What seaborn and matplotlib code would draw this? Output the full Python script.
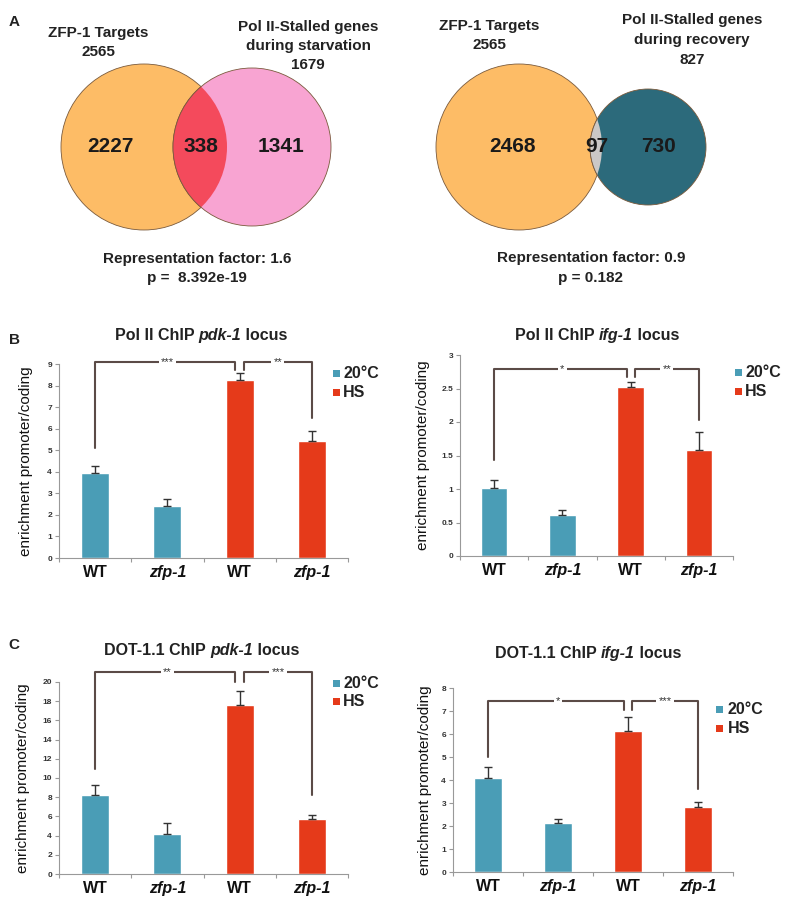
import numpy as np
import pandas as pd
import matplotlib.pyplot as plt
import seaborn as sns
from matplotlib.patches import Circle, Rectangle

sns.set_theme(style="white")
plt.rcParams['font.family'] = ['Liberation Sans', 'DejaVu Sans']

# ---- data ----
# venn A (left: starvation, right: recovery)
venn_starv = [2227, 338, 1341]
venn_recov = [2468, 97, 730]
zfp_total = 2565
starv_total = 1679
recov_total = 827

# bar charts
groups = ["WT_20", "zfp_20", "WT_HS", "zfp_HS"]
conds = ["20°C", "20°C", "HS", "HS"]
xlabels = ["WT", "zfp-1", "WT", "zfp-1"]

pol2_pdk = [3.95, 2.42, 8.28, 5.45]
pol2_pdk_err = [0.30, 0.30, 0.30, 0.45]
pol2_ifg = [1.02, 0.61, 2.52, 1.58]
pol2_ifg_err = [0.12, 0.08, 0.08, 0.27]
dot_pdk = [8.2, 4.15, 17.65, 5.75]
dot_pdk_err = [1.05, 1.15, 1.4, 0.35]
dot_ifg = [4.08, 2.12, 6.12, 2.82]
dot_ifg_err = [0.50, 0.20, 0.62, 0.22]

# significance brackets: stars, left arm start, top, middle drop, right arm end
sig_pol2_pdk = ("***", "**", 5.1, 9.08, 8.72, 6.5)
sig_pol2_ifg = ("*", "**", 1.43, 2.79, 2.67, 2.03)
sig_dot_pdk = ("**", "***", 10.9, 21.0, 20.0, 8.2)
sig_dot_ifg = ("*", "***", 5.0, 7.43, 7.05, 3.6)

teal = "#4A9DB6"
red = "#E53A1A"
brk = "#5B4B47"

fig = plt.figure(figsize=(8, 9.05), dpi=100)
bg = fig.add_axes([0, 0, 1, 1])
bg.set_xlim(0, 800)
bg.set_ylim(905, 0)
bg.axis('off')


def venn(c1, r1, c2, r2, col1, col2, colint, counts, pos):
    a = Circle(c1, r1, fc=col1, ec="#7a5a3c", lw=0.6)
    b = Circle(c2, r2, fc=col2, ec="#7a5a3c", lw=0.6)
    bg.add_patch(a)
    bg.add_patch(b)
    i = Circle(c2, r2, fc=colint, ec="#7a5a3c", lw=0.6)
    bg.add_patch(i)
    i.set_clip_path(a)
    for n, p in zip(counts, pos):
        bg.text(p, c1[1], str(n), fontsize=15, fontweight='bold', ha='center', va='center', color="#1a1a1a")


venn((144, 147), 83, (252, 147), 79, "#FDBC66", "#F8A4D2", "#F44A5C", venn_starv, [110, 201, 281])
venn((519, 147), 83, (648, 147), 58, "#FDBC66", "#2C6A7B", "#CBC8C6", venn_recov, [512, 597, 658])

tk = dict(fontsize=11, fontweight='bold', ha='center', va='center', color="#222")
bg.text(14, 22, "A", **tk)
bg.text(98, 33, "ZFP-1 Targets", **tk)
bg.text(98, 52, str(zfp_total), **tk)
bg.text(308, 27, "Pol II-Stalled genes", **tk)
bg.text(308, 46, "during starvation", **tk)
bg.text(308, 65, str(starv_total), **tk)
bg.text(197, 259, "Representation factor: 1.6", **tk)
bg.text(197, 278, "p =  8.392e-19", **tk)

bg.text(489, 26, "ZFP-1 Targets", **tk)
bg.text(489, 45, str(zfp_total), **tk)
bg.text(692, 20, "Pol II-Stalled genes", **tk)
bg.text(692, 40, "during recovery", **tk)
bg.text(692, 60, str(recov_total), **tk)
bg.text(591, 258, "Representation factor: 0.9", **tk)
bg.text(591, 278, "p = 0.182", **tk)

bg.text(14, 340, "B", **tk)
bg.text(14, 645, "C", **tk)


def rich_title(x, y, parts):
    r = fig.canvas.get_renderer()
    objs = []
    for s, st in parts:
        objs.append(bg.text(0, y, s, fontsize=11.5, fontweight='bold', fontstyle=st,
                            ha='left', va='center', color="#222"))
    ws = [t.get_window_extent(r).width for t in objs]
    x0 = x - sum(ws) / 2
    for t, w in zip(objs, ws):
        t.set_x(x0)
        x0 += w


def legend(sx, tx, y1, y2):
    for y, c, lab in [(y1, teal, "20°C"), (y2, red, "HS")]:
        bg.add_patch(Rectangle((sx, y - 3.5), 7, 7, fc=c, ec='none'))
        bg.text(tx, y, lab, fontsize=11.5, fontweight='bold', ha='left', va='center', color="#222")


def bars(rect, vals, errs, yticks, ylabs, sig, ylab_x):
    ax = fig.add_axes(rect)
    ax.set_facecolor('none')
    df = pd.DataFrame({"group": groups, "cond": conds, "val": vals})
    sns.barplot(data=df, x="group", y="val", hue="cond", palette=[teal, red],
                dodge=False, width=0.39, saturation=1, legend=False, ax=ax)
    ax.errorbar(range(4), vals, yerr=[np.zeros(4), errs], fmt='none',
                ecolor="#333", elinewidth=1, capsize=3, capthick=1)
    ax.set_xlim(-0.5, 3.5)
    ax.set_ylim(yticks[0], yticks[-1])
    ax.set_yticks(yticks)
    ax.set_yticklabels(ylabs, fontsize=6, fontweight='bold', color="#333")
    ax.set_xticks(range(4))
    ax.set_xticklabels(xlabels, fontsize=11.5, fontweight='bold', color="#111")
    for t in ax.get_xticklabels():
        if t.get_text() != "WT":
            t.set_fontstyle('italic')
    ax.set_xticks(np.arange(-0.5, 4, 1), minor=True)
    ax.tick_params(axis='x', which='major', length=0, pad=5)
    ax.tick_params(axis='x', which='minor', length=3, color="#999", width=0.8, direction='out', bottom=True)
    ax.tick_params(axis='y', length=3, color="#999", width=0.8, direction='out', left=True, pad=2)
    for s in ['top', 'right']:
        ax.spines[s].set_visible(False)
    for s in ['left', 'bottom']:
        ax.spines[s].set_color("#999")
        ax.spines[s].set_linewidth(0.8)
    ax.set_xlabel("")
    ax.set_ylabel("enrichment promoter/coding", fontsize=11, color="#111")
    ax.yaxis.set_label_coords(ylab_x, 0.5)

    s1, s2, left_y, top, mid, right_y = sig
    kw = dict(color=brk, lw=1.5, clip_on=False)
    ax.plot([0, 0, 1.94, 1.94], [left_y, top, top, mid], **kw)
    ax.plot([2.06, 2.06, 3, 3], [mid, top, top, right_y], **kw)
    bb = dict(fc='white', ec='none', pad=1.5)
    ax.text(1, top, s1, fontsize=8, ha='center', va='center', color="#333", bbox=bb, clip_on=False)
    ax.text(2.53, top, s2, fontsize=8, ha='center', va='center', color="#333", bbox=bb, clip_on=False)
    return ax


H = 905.0
bars([59 / 800, 1 - 558 / H, 289 / 800, 194 / H], pol2_pdk, pol2_pdk_err,
     list(range(0, 10)), [str(v) for v in range(0, 10)], sig_pol2_pdk, -0.09)
bars([460 / 800, 1 - 556 / H, 273 / 800, 201 / H], pol2_ifg, pol2_ifg_err,
     [0, 0.5, 1, 1.5, 2, 2.5, 3], ["0", "0.5", "1", "1.5", "2", "2.5", "3"], sig_pol2_ifg, -0.11)
bars([59 / 800, 1 - 874 / H, 289 / 800, 192 / H], dot_pdk, dot_pdk_err,
     list(range(0, 21, 2)), [str(v) for v in range(0, 21, 2)], sig_dot_pdk, -0.1)
bars([453 / 800, 1 - 872 / H, 280 / 800, 184 / H], dot_ifg, dot_ifg_err,
     list(range(0, 9)), [str(v) for v in range(0, 9)], sig_dot_ifg, -0.075)

rich_title(201, 335, [("Pol II ChIP ", 'normal'), ("pdk-1", 'italic'), (" locus", 'normal')])
rich_title(597, 335, [("Pol II ChIP ", 'normal'), ("ifg-1", 'italic'), (" locus", 'normal')])
rich_title(202, 650, [("DOT-1.1 ChIP ", 'normal'), ("pdk-1", 'italic'), (" locus", 'normal')])
rich_title(588, 653, [("DOT-1.1 ChIP ", 'normal'), ("ifg-1", 'italic'), (" locus", 'normal')])

legend(333, 343, 373, 392)
legend(735, 745, 372, 391)
legend(333, 343, 683, 701)
legend(716, 728, 709, 728)

fig.savefig("out.png", dpi=100)
